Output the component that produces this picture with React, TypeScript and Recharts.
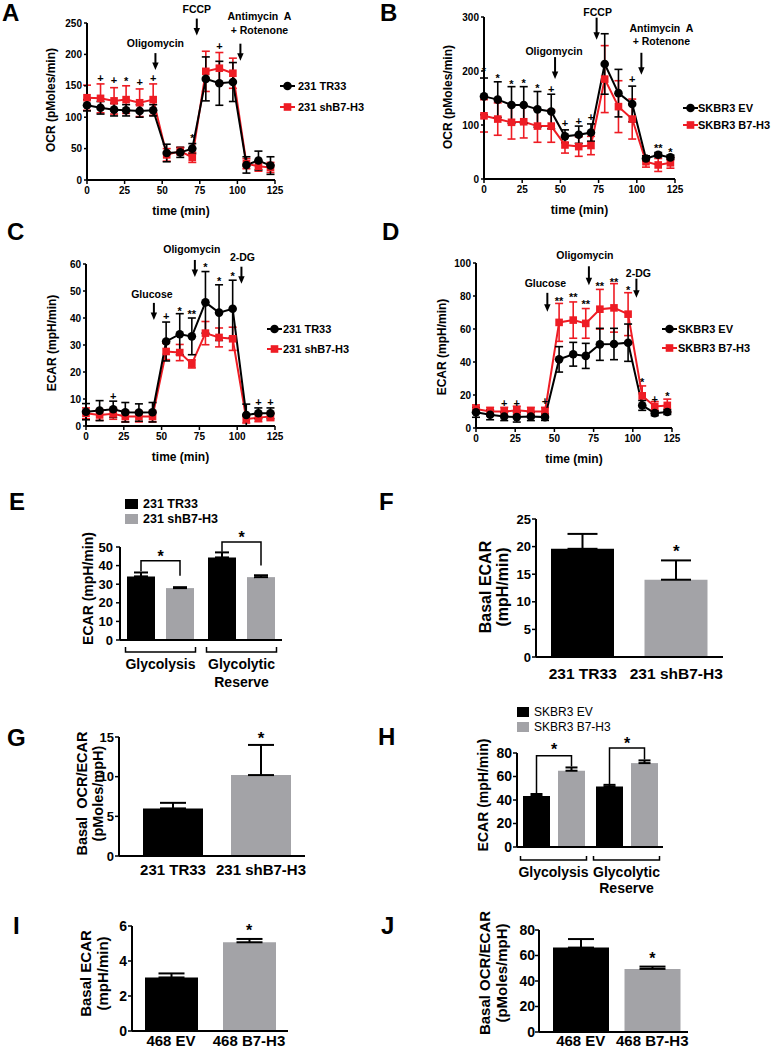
import React from 'react';
import {
  ComposedChart, BarChart, Bar, Line, XAxis, YAxis, ErrorBar, ReferenceDot, Label, Cell,
} from 'recharts';

const FONT = '"Liberation Sans", Arial, Helvetica, sans-serif';
const RED = '#ee1c24';
const GRAY = '#a3a3a7';

// ---------------- shared time axis ----------------
const times = [0, 9, 18, 26, 35, 44, 53, 62, 70, 79, 88, 97, 106, 114, 122];
const timeTicks = [0, 25, 50, 75, 100, 125];

// ---------------- Panel A ----------------
const aNames = ['231 TR33', '231 shB7-H3'];
const aBlack = [119, 115, 112, 111, 110, 111, 43, 44, 50, 161, 154, 156, 24, 31, 23];
const aBlackErr = [9, 10, 10, 9, 10, 9, 14, 8, 8, 35, 35, 31, 13, 15, 14];
const aRed = [131, 130, 126, 128, 123, 128, 40, 46, 36, 173, 178, 170, 26, 22, 20];
const aRedErr = [20, 23, 21, 22, 22, 25, 10, 6, 8, 32, 25, 24, 8, 8, 8];
const aYTicks = [0, 50, 100, 150, 200, 250];
const aMarks = [
  { t: 9, y: 163, s: '+' }, { t: 18, y: 159, s: '+' }, { t: 26, y: 161, s: '*' },
  { t: 35, y: 156, s: '+' }, { t: 44, y: 163, s: '+' }, { t: 70, y: 70, s: '*' }, { t: 88, y: 214, s: '+' },
];
const aArrows = [
  { t: 45.5, y: 175, lines: ['Oligomycin'] },
  { t: 73, y: 230, lines: ['FCCP'] },
  { t: 102, y: 190, lines: ['Antimycin  A', '+ Rotenone'] },
];

// ---------------- Panel B ----------------
const bNames = ['SKBR3 EV', 'SKBR3 B7-H3'];
const bBlack = [153, 147, 137, 137, 129, 125, 79, 82, 86, 213, 159, 139, 38, 45, 40];
const bBlackErr = [34, 33, 34, 34, 33, 32, 12, 16, 16, 56, 44, 33, 5, 4, 4];
const bRed = [117, 111, 105, 106, 98, 98, 63, 60, 62, 185, 134, 111, 32, 26, 30];
const bRedErr = [30, 30, 31, 30, 30, 30, 15, 18, 17, 62, 48, 37, 10, 12, 10];
const bYTicks = [0, 100, 200, 300];
const bMarks = [
  { t: 0, y: 205, s: '*' }, { t: 9, y: 191, s: '*' }, { t: 18, y: 180, s: '*' }, { t: 26, y: 182, s: '*' },
  { t: 35, y: 172, s: '*' }, { t: 44, y: 166, s: '+' }, { t: 53, y: 103, s: '+' }, { t: 62, y: 108, s: '+' },
  { t: 70, y: 114, s: '+' }, { t: 97, y: 186, s: '+' }, { t: 114, y: 62, s: '**' }, { t: 122, y: 55, s: '*' },
];
const bArrows = [
  { t: 46.5, y: 185, lines: ['Oligomycin'] },
  { t: 73.7, y: 258, lines: ['FCCP'] },
  { t: 103, y: 193, lines: ['Antimycin  A', '+ Rotenone'] },
];

// ---------------- Panel C ----------------
const cNames = ['231 TR33', '231 shB7-H3'];
const cBlack = [5.3, 5.7, 6.2, 5.1, 5.0, 5.1, 31.3, 34.0, 33.2, 45.8, 42.0, 43.4, 4.1, 4.7, 4.7];
const cBlackErr = [3.0, 3.7, 3.0, 3.6, 3.2, 3.6, 7.2, 7.6, 6.8, 11.4, 10.3, 10.6, 4.0, 2.0, 2.0];
const cRed = [4.7, 4.1, 4.5, 3.5, 3.5, 3.5, 27.6, 27.2, 23.0, 34.4, 32.8, 32.3, 2.6, 3.1, 3.5];
const cRedErr = [2, 2, 2, 2, 2, 2, 3, 3, 1.5, 4.3, 3.5, 4.3, 1.5, 1.5, 1.5];
const cYTicks = [0, 10, 20, 30, 40, 50, 60];
const cMarks = [
  { t: 18, y: 11.1, s: '+' }, { t: 53, y: 40.6, s: '+' }, { t: 62, y: 43.4, s: '*' }, { t: 70, y: 42.4, s: '**' },
  { t: 79, y: 59.8, s: '*' }, { t: 88, y: 54.4, s: '*' }, { t: 97, y: 56.3, s: '*' },
  { t: 114, y: 8.7, s: '+' }, { t: 122, y: 8.7, s: '+' },
];
const cArrows = [
  { t: 44.9, y: 39.3, lines: ['Glucose'] },
  { t: 72, y: 55.2, lines: ['Oligomycin'] },
  { t: 102.8, y: 52.7, lines: ['2-DG'] },
];

// ---------------- Panel D ----------------
const dNames = ['SKBR3 EV', 'SKBR3 B7-H3'];
const dBlack = [9.5, 8, 7, 6.6, 7, 6.6, 41.6, 44.7, 43.7, 50.7, 50.9, 51.7, 13.7, 9, 9.7];
const dBlackErr = [3, 3, 2.5, 3, 2.5, 2, 7.7, 7.2, 7.6, 9.7, 9.5, 11.3, 3, 1.5, 1.5];
const dRed = [11.5, 10, 10, 10.7, 10, 10, 64, 65.4, 63.4, 72, 72.8, 69, 19.5, 13, 13.7];
const dRedErr = [2.5, 2.5, 2.5, 2.5, 2.5, 2.5, 11.5, 11, 9, 12, 14.7, 13, 6, 3, 3.8];
const dYTicks = [0, 20, 40, 60, 80, 100];
const dMarks = [
  { t: 18, y: 15.1, s: '+' }, { t: 26, y: 15.1, s: '+' }, { t: 44, y: 16.1, s: '+' },
  { t: 53, y: 78.5, s: '**' }, { t: 62, y: 80.5, s: '**' }, { t: 70, y: 76.5, s: '**' },
  { t: 79, y: 87.5, s: '**' }, { t: 88, y: 90, s: '**' }, { t: 97, y: 85, s: '*' },
  { t: 106, y: 29, s: '*' }, { t: 114, y: 17.5, s: '+' }, { t: 122, y: 20.7, s: '*' },
];
const dArrows = [
  { t: 45.5, y: 70.4, lines: ['Glucose'] },
  { t: 72, y: 86.5, lines: ['Oligomycin'] },
  { t: 102.3, y: 79, lines: ['2-DG'] },
];

// ---------------- Panel E ----------------
const eNames = ['231 TR33', '231 shB7-H3'];
const eCats = ['Glycolysis', 'Glycolytic Reserve'];
const eBlack = [34.2, 44.4];
const eBlackErr = [2.1, 2.7];
const eGray = [27.9, 33.8];
const eGrayErr = [0.5, 1.0];
const eBrackets = [
  { level: 42.6, l: 37, r: 34.5, star: 47.1 },
  { level: 52.7, l: 47.5, r: 40, star: 57 },
];
const eYTicks = [0, 10, 20, 30, 40, 50];

// ---------------- Panel F ----------------
const fCats = ['231 TR33', '231 shB7-H3'];
const fVals = [19.6, 14.0];
const fErrs = [2.7, 3.5];
const fStar = 19.9;
const fYTicks = [0, 5, 10, 15, 20, 25];

// ---------------- Panel G ----------------
const gCats = ['231 TR33', '231 shB7-H3'];
const gVals = [6.0, 10.2];
const gErrs = [0.7, 3.8];
const gStar = 15.4;
const gYTicks = [0, 5, 10, 15];

// ---------------- Panel H ----------------
const hNames = ['SKBR3 EV', 'SKBR3 B7-H3'];
const hCats = ['Glycolysis', 'Glycolytic Reserve'];
const hBlack = [43.4, 51.4];
const hBlackErr = [1.7, 1.5];
const hGray = [64.9, 71.4];
const hGrayErr = [2.8, 2.3];
const hBrackets = [
  { level: 77.7, l: 45.5, r: 68.6, star: 86.3 },
  { level: 84.3, l: 53.5, r: 74.5, star: 91.4 },
];
const hYTicks = [0, 20, 40, 60, 80];

// ---------------- Panel I ----------------
const iCats = ['468 EV', '468 B7-H3'];
const iVals = [3.06, 5.07];
const iErrs = [0.23, 0.19];
const iStar = 5.97;
const iYTicks = [0, 2, 4, 6];

// ---------------- Panel J ----------------
const jCats = ['468 EV', '468 B7-H3'];
const jVals = [66.2, 49.5];
const jErrs = [6.7, 1.8];
const jStar = 60.4;
const jYTicks = [0, 20, 40, 60, 80];

const panelLetters = ['A', 'B', 'C', 'D', 'E', 'F', 'G', 'H', 'I', 'J'];

// ---------------- helpers ----------------
const AXIS_LINE = { stroke: '#000', strokeWidth: 2 };
const TICK_LINE = { stroke: '#000', strokeWidth: 1.5 };

function glyphShape(s: string, fs: number) {
  return (p: any) => {
    if (p.cx == null || p.cy == null) return <g />;
    const base = s.includes('*') ? 0.57 : 0.36;
    return (
      <text x={p.cx} y={p.cy + base * fs} textAnchor="middle" fontSize={fs} fontWeight="bold"
        fontFamily={FONT} fill="#000">{s}</text>
    );
  };
}

function arrowShape(lines: string[], len: number, gap: number, dx: number, lineGap: number, fs: number) {
  return (p: any) => {
    if (p.cx == null || p.cy == null) return <g />;
    const { cx, cy } = p;
    const top = cy - len;
    return (
      <g>
        <line x1={cx} y1={top} x2={cx} y2={cy - 6} stroke="#000" strokeWidth={2} />
        <polygon points={`${cx - 3.2},${cy - 7.5} ${cx + 3.2},${cy - 7.5} ${cx},${cy}`} fill="#000" />
        {lines.map((l, i) => (
          <text key={i} x={cx + dx} y={top - gap - (lines.length - 1 - i) * lineGap} textAnchor="middle"
            fontSize={fs} fontWeight="bold" fontFamily={FONT} fill="#000" style={{ whiteSpace: 'pre' }}>{l}</text>
        ))}
      </g>
    );
  };
}

function rotTitle(lines: string[], xs: number[], cy: number, fs: number, weight: string) {
  return () => (
    <g>
      {lines.map((l, i) => {
        const x = xs[i] + 0.36 * fs;
        return (
          <text key={i} x={x} y={cy} transform={`rotate(-90 ${x} ${cy})`} textAnchor="middle" fontSize={fs}
            fontWeight={weight} fontFamily={FONT} fill="#000" style={{ whiteSpace: 'pre' }}>{l}</text>
        );
      })}
    </g>
  );
}

type Mark = { t: number; y: number; s: string };
type Arrow = { t: number; y: number; lines: string[] };

type LineProps = {
  left: number; top: number; width: number; height: number;
  yW: number; mTop: number; mRight: number; xH: number;
  yMax: number; yTicks: number[];
  names: string[];
  black: number[]; blackErr: number[]; red: number[]; redErr: number[];
  marks: Mark[]; arrows: Arrow[];
  arrowLen: number; arrowGaps: number[]; arrowDx: number[]; arrowLineGap: number;
  yTitle: string; yTitleX: number; yTitleDy: number;
  legendIconX: number; legendTextX: number; legendRows: number[];
};

function LineLegend({ names, iconX, textX, rows }: { names: string[]; iconX: number; textX: number; rows: number[] }) {
  return (
    <>
      {names.map((n, i) => (
        <React.Fragment key={i}>
          <svg style={{ position: 'absolute', left: iconX, top: rows[i] - 6 }} width={15} height={12}>
            <line x1={0} y1={6} x2={15} y2={6} stroke={i === 0 ? '#000' : RED} strokeWidth={2} />
            {i === 0
              ? <circle cx={7.5} cy={6} r={4.3} fill="#000" />
              : <rect x={3.7} y={2.2} width={7.6} height={7.6} fill={RED} />}
          </svg>
          <div style={{
            position: 'absolute', left: textX, top: rows[i] - 8, fontSize: 11, lineHeight: '16px',
            fontWeight: 'bold', whiteSpace: 'nowrap', fontFamily: FONT, color: '#000',
          }}>{n}</div>
        </React.Fragment>
      ))}
    </>
  );
}

function LinePanel(p: LineProps) {
  const rows = times.map((t, i) => ({ t, k: p.black[i], ke: p.blackErr[i], r: p.red[i], re: p.redErr[i] }));
  const plotH = p.height - p.mTop - p.xH;
  const plotL = p.yW;
  const plotR = p.width - p.mRight;
  const blackDot = (d: any) => (d.cx == null ? <g key={`k${d.index}`} /> :
    <circle key={`k${d.index}`} cx={d.cx} cy={d.cy} r={4.3} fill="#000" />);
  const redDot = (d: any) => (d.cx == null ? <g key={`r${d.index}`} /> :
    <rect key={`r${d.index}`} x={d.cx - 3.8} y={d.cy - 3.8} width={7.6} height={7.6} fill={RED} />);
  return (
    <>
      <div style={{ position: 'absolute', left: p.left, top: p.top }}>
        <ComposedChart width={p.width} height={p.height} data={rows}
          margin={{ top: p.mTop, right: p.mRight, bottom: 0, left: 0 }}>
          <XAxis dataKey="t" type="number" domain={[0, 125]} ticks={timeTicks} interval={0} height={p.xH}
            axisLine={AXIS_LINE} tickLine={TICK_LINE} tickSize={4} tickMargin={3}
            tick={{ fill: '#000', fontSize: 10, fontWeight: 'bold', fontFamily: FONT }}>
            <Label content={() => (
              <text x={(plotL + plotR) / 2} y={p.mTop + plotH + 34.5} textAnchor="middle" fontSize={12}
                fontWeight="bold" fontFamily={FONT} fill="#000">time (min)</text>
            )} />
          </XAxis>
          <YAxis type="number" domain={[0, p.yMax]} ticks={p.yTicks} interval={0} width={p.yW}
            axisLine={AXIS_LINE} tickLine={TICK_LINE} tickSize={3} tickMargin={2}
            tick={{ fill: '#000', fontSize: 10, fontWeight: 'bold', fontFamily: FONT }}>
            <Label content={rotTitle([p.yTitle], [p.yTitleX], p.mTop + plotH / 2 + p.yTitleDy, 12, 'bold')} />
          </YAxis>
          <Line dataKey="r" stroke={RED} strokeWidth={2} isAnimationActive={false} dot={redDot} activeDot={false}>
            <ErrorBar dataKey="re" width={4} stroke={RED} strokeWidth={1.6} direction="y" />
          </Line>
          <Line dataKey="k" stroke="#000" strokeWidth={2} isAnimationActive={false} dot={blackDot} activeDot={false}>
            <ErrorBar dataKey="ke" width={4} stroke="#000" strokeWidth={1.6} direction="y" />
          </Line>
          {p.marks.map((m, i) => (
            <ReferenceDot key={`m${i}`} x={m.t} y={m.y} r={0} ifOverflow="visible" shape={glyphShape(m.s, 11)} />
          ))}
          {p.arrows.map((a, i) => (
            <ReferenceDot key={`a${i}`} x={a.t} y={a.y} r={0} ifOverflow="visible"
              shape={arrowShape(a.lines, p.arrowLen, p.arrowGaps[i], p.arrowDx[i], p.arrowLineGap, 10.5)} />
          ))}
        </ComposedChart>
      </div>
      <LineLegend names={p.names} iconX={p.legendIconX} textX={p.legendTextX} rows={p.legendRows} />
    </>
  );
}

type SimpleBarProps = {
  left: number; top: number; width: number; height: number;
  yW: number; mTop: number; mRight: number; xH: number; padL: number;
  yMax: number; yTicks: number[];
  cats: string[]; vals: number[]; errs: number[]; star: number;
  barSize: number; cap: number;
  tickFs: number; tickWeight: string; tickSize: number; tickMargin: number;
  labelFs: number; labelWeight: string; labelOffset: number;
  titles: string[]; titleXs: number[]; titleFs: number; titleWeight: string; titleDy: number;
  starFs: number;
};

function SimpleBarPanel(p: SimpleBarProps) {
  const rows = p.cats.map((c, i) => ({ name: c, v: p.vals[i], e: [0, p.errs[i]] }));
  const plotH = p.height - p.mTop - p.xH;
  const xTick = (t: any) => (
    <text x={t.x} y={t.y + p.labelOffset + 0.36 * p.labelFs} textAnchor="middle" fontSize={p.labelFs}
      fontWeight={p.labelWeight} fontFamily={FONT} fill="#000">{t.payload.value}</text>
  );
  return (
    <div style={{ position: 'absolute', left: p.left, top: p.top }}>
      <BarChart width={p.width} height={p.height} data={rows}
        margin={{ top: p.mTop, right: p.mRight, bottom: 0, left: 0 }}>
        <XAxis dataKey="name" type="category" interval={0} height={p.xH} padding={{ left: p.padL, right: 0 }}
          axisLine={AXIS_LINE} tickLine={false} tickSize={0} tickMargin={0} tick={xTick} />
        <YAxis type="number" domain={[0, p.yMax]} ticks={p.yTicks} interval={0} width={p.yW}
          axisLine={AXIS_LINE} tickLine={TICK_LINE} tickSize={p.tickSize} tickMargin={p.tickMargin}
          tick={{ fill: '#000', fontSize: p.tickFs, fontWeight: p.tickWeight, fontFamily: FONT }}>
          <Label content={rotTitle(p.titles, p.titleXs, p.mTop + plotH / 2 + p.titleDy, p.titleFs, p.titleWeight)} />
        </YAxis>
        <Bar dataKey="v" barSize={p.barSize} isAnimationActive={false}>
          {rows.map((r, i) => <Cell key={i} fill={i === 0 ? '#000' : GRAY} />)}
          <ErrorBar dataKey="e" width={p.cap} stroke="#000" strokeWidth={2} direction="y" />
        </Bar>
        <ReferenceDot x={p.cats[1]} y={p.star} r={0} ifOverflow="visible" shape={glyphShape('*', p.starFs)} />
      </BarChart>
    </div>
  );
}

type Bracket = { level: number; l: number; r: number; star: number };
type GroupBarProps = {
  left: number; top: number; width: number; height: number;
  yW: number; mTop: number; mRight: number; xH: number;
  yMax: number; yTicks: number[];
  cats: string[]; black: number[]; blackErr: number[]; gray: number[]; grayErr: number[];
  brackets: Bracket[];
  barSize: number; barGap: number; cap: number;
  tickFs: number; tickSize: number; tickMargin: number;
  groupHalf: number; groupBrY: number; groupBrH: number; groupLineYs: number[]; groupFs: number;
  title: string; titleX: number; titleFs: number; titleDy: number;
  names: string[]; legendX: number; legendTextX: number; legendRows: number[]; legendFs: number; legendWeight: string;
  legendW: number; legendH: number;
};

function GroupBarPanel(p: GroupBarProps) {
  const rows = p.cats.map((c, i) => ({
    name: c, k: p.black[i], ke: [0, p.blackErr[i]], g: p.gray[i], ge: [0, p.grayErr[i]], br: p.brackets[i],
  }));
  const plotH = p.height - p.mTop - p.xH;
  const xTick = (t: any) => {
    const words = String(t.payload.value).split(' ');
    const by = t.y + p.groupBrY;
    return (
      <g>
        <path d={`M${t.x - p.groupHalf},${by - p.groupBrH} V${by} H${t.x + p.groupHalf} V${by - p.groupBrH}`}
          stroke="#000" strokeWidth={1.5} fill="none" />
        {words.map((w, i) => (
          <text key={i} x={t.x} y={t.y + p.groupLineYs[i] + 0.36 * p.groupFs} textAnchor="middle"
            fontSize={p.groupFs} fontWeight="bold" fontFamily={FONT} fill="#000">{w}</text>
        ))}
      </g>
    );
  };
  const grayShape = (s: any) => {
    const br: Bracket | undefined = (s.payload && s.payload.br) || p.brackets[s.index];
    const gv = (s.payload && s.payload.g) || p.gray[s.index];
    const ppu = s.height / gv;
    const base = s.y + s.height;
    const Y = (v: number) => base - v * ppu;
    const gx = s.x + s.width / 2;
    const kx = gx - s.width - p.barGap;
    return (
      <g>
        <rect x={s.x} y={s.y} width={s.width} height={s.height} fill={GRAY} />
        {br && (
          <>
            <path d={`M${kx},${Y(br.l)} V${Y(br.level)} H${gx} V${Y(br.r)}`} stroke="#000" strokeWidth={1.5} fill="none" />
            <text x={(kx + gx) / 2} y={Y(br.star) + 0.57 * 16} textAnchor="middle" fontSize={16} fontWeight="bold"
              fontFamily={FONT} fill="#000">*</text>
          </>
        )}
      </g>
    );
  };
  return (
    <>
      <div style={{ position: 'absolute', left: p.left, top: p.top }}>
        <BarChart width={p.width} height={p.height} data={rows} barGap={p.barGap}
          margin={{ top: p.mTop, right: p.mRight, bottom: 0, left: 0 }}>
          <XAxis dataKey="name" type="category" interval={0} height={p.xH}
            axisLine={AXIS_LINE} tickLine={false} tickSize={0} tickMargin={0} tick={xTick} />
          <YAxis type="number" domain={[0, p.yMax]} ticks={p.yTicks} interval={0} width={p.yW}
            axisLine={AXIS_LINE} tickLine={TICK_LINE} tickSize={p.tickSize} tickMargin={p.tickMargin}
            tick={{ fill: '#000', fontSize: p.tickFs, fontWeight: 'bold', fontFamily: FONT }}>
            <Label content={rotTitle([p.title], [p.titleX], p.mTop + plotH / 2 + p.titleDy, p.titleFs, 'bold')} />
          </YAxis>
          <Bar dataKey="k" fill="#000" barSize={p.barSize} isAnimationActive={false}>
            <ErrorBar dataKey="ke" width={p.cap} stroke="#000" strokeWidth={2} direction="y" />
          </Bar>
          <Bar dataKey="g" fill={GRAY} barSize={p.barSize} isAnimationActive={false} shape={grayShape}>
            <ErrorBar dataKey="ge" width={p.cap} stroke="#000" strokeWidth={2} direction="y" />
          </Bar>
        </BarChart>
      </div>
      {p.names.map((n, i) => (
        <React.Fragment key={i}>
          <div style={{
            position: 'absolute', left: p.legendX, top: p.legendRows[i] - p.legendH / 2, width: p.legendW,
            height: p.legendH, background: i === 0 ? '#000' : GRAY,
          }} />
          <div style={{
            position: 'absolute', left: p.legendTextX, top: p.legendRows[i] - 8, fontSize: p.legendFs,
            lineHeight: '16px', fontWeight: p.legendWeight as any, whiteSpace: 'nowrap', fontFamily: FONT, color: '#000',
          }}>{n}</div>
        </React.Fragment>
      ))}
    </>
  );
}

const letterPos = [
  { x: 2, y: 4 }, { x: 380, y: 4 }, { x: 7, y: 223 }, { x: 382, y: 223 }, { x: 9, y: 493 },
  { x: 379, y: 493 }, { x: 7, y: 729 }, { x: 378, y: 728 }, { x: 13, y: 917 }, { x: 381, y: 917 },
];

export default function App() {
  return (
    <div style={{
      position: 'absolute', left: 0, top: 0, width: 774, height: 1050, background: '#fff',
      overflow: 'hidden', fontFamily: FONT,
    }}>
      {panelLetters.map((c, i) => (
        <div key={c} style={{
          position: 'absolute', left: letterPos[i].x, top: letterPos[i].y - 3, fontSize: 24, lineHeight: '24px',
          fontWeight: 'bold', fontFamily: FONT, color: '#000',
        }}>{c}</div>
      ))}

      <LinePanel left={0} top={0} width={310} height={225} yW={87} mTop={23} mRight={35} xH={45}
        yMax={250} yTicks={aYTicks} names={aNames}
        black={aBlack} blackErr={aBlackErr} red={aRed} redErr={aRedErr}
        marks={aMarks} arrows={aArrows} arrowLen={17} arrowGaps={[6, 6, 10]} arrowDx={[0, 0, 19]} arrowLineGap={14}
        yTitle="OCR (pMoles/min)" yTitleX={51} yTitleDy={-1.5}
        legendIconX={280} legendTextX={298} legendRows={[86, 107]} />

      <LinePanel left={390} top={0} width={320} height={225} yW={94} mTop={17} mRight={35} xH={46}
        yMax={300} yTicks={bYTicks} names={bNames}
        black={bBlack} blackErr={bBlackErr} red={bRed} redErr={bRedErr}
        marks={bMarks} arrows={bArrows} arrowLen={22} arrowGaps={[2, 2, 8]} arrowDx={[-1, 1, 20]} arrowLineGap={13}
        yTitle="OCR (pMoles/min)" yTitleX={58} yTitleDy={-1}
        legendIconX={683} legendTextX={698} legendRows={[108, 125]} />

      <LinePanel left={0} top={240} width={290} height={231} yW={86} mTop={24} mRight={15} xH={45}
        yMax={60} yTicks={cYTicks} names={cNames}
        black={cBlack} blackErr={cBlackErr} red={cRed} redErr={cRedErr}
        marks={cMarks} arrows={cArrows} arrowLen={17} arrowGaps={[5, 7, 6]} arrowDx={[-2, -3, 1]} arrowLineGap={14}
        yTitle="ECAR (mpH/min)" yTitleX={52} yTitleDy={-2}
        legendIconX={267} legendTextX={283} legendRows={[329, 349]} />

      <LinePanel left={390} top={240} width={297} height={233} yW={86} mTop={23} mRight={15} xH={45}
        yMax={100} yTicks={dYTicks} names={dNames}
        black={dBlack} blackErr={dBlackErr} red={dRed} redErr={dRedErr}
        marks={dMarks} arrows={dArrows} arrowLen={19} arrowGaps={[6, 7, 2]} arrowDx={[-2, -4, 2]} arrowLineGap={14}
        yTitle="ECAR (mpH/min)" yTitleX={52} yTitleDy={1.5}
        legendIconX={662} legendTextX={678} legendRows={[329, 348]} />

      <GroupBarPanel left={0} top={490} width={300} height={210} yW={120} mTop={57} mRight={18} xH={60}
        yMax={50} yTicks={eYTicks} cats={eCats} black={eBlack} blackErr={eBlackErr} gray={eGray} grayErr={eGrayErr}
        brackets={eBrackets} barSize={28} barGap={11} cap={7}
        tickFs={13} tickSize={4} tickMargin={3}
        groupHalf={35} groupBrY={12} groupBrH={5} groupLineYs={[24, 42]} groupFs={14}
        title="ECAR (mpH/min)" titleX={88} titleFs={14} titleDy={-5}
        names={eNames} legendX={125} legendTextX={143} legendRows={[504, 519]} legendFs={12.5} legendWeight="bold"
        legendW={13} legendH={10} />

      <SimpleBarPanel left={390} top={490} width={340} height={200} yW={146} mTop={29} mRight={7} xH={33} padL={0}
        yMax={25} yTicks={fYTicks} cats={fCats} vals={fVals} errs={fErrs} star={fStar}
        barSize={63} cap={15} tickFs={13} tickWeight="bold" tickSize={4} tickMargin={1}
        labelFs={15.5} labelWeight="bold" labelOffset={16}
        titles={['Basal ECAR', '(mpH/min)']} titleXs={[95, 112]} titleFs={16} titleWeight="bold" titleDy={-1}
        starFs={17} />

      <SimpleBarPanel left={0} top={690} width={315} height={195} yW={119} mTop={47} mRight={10} xH={29} padL={10}
        yMax={15} yTicks={gYTicks} cats={gCats} vals={gVals} errs={gErrs} star={gStar}
        barSize={60} cap={13} tickFs={13} tickWeight="bold" tickSize={4} tickMargin={1}
        labelFs={15} labelWeight="bold" labelOffset={14}
        titles={['Basal  OCR/ECAR', '(pMoles/mpH)']} titleXs={[82, 98]} titleFs={14.5} titleWeight="bold" titleDy={-3}
        starFs={17} />

      <GroupBarPanel left={390} top={690} width={280} height={210} yW={127} mTop={63} mRight={7} xH={53}
        yMax={80} yTicks={hYTicks} cats={hCats} black={hBlack} blackErr={hBlackErr} gray={hGray} grayErr={hGrayErr}
        brackets={hBrackets} barSize={27} barGap={8} cap={6}
        tickFs={14} tickSize={4} tickMargin={1}
        groupHalf={33} groupBrY={13} groupBrH={4} groupLineYs={[25, 41]} groupFs={14}
        title="ECAR (mpH/min)" titleX={93} titleFs={14} titleDy={-5}
        names={hNames} legendX={517} legendTextX={534} legendRows={[712, 727]} legendFs={12} legendWeight="normal"
        legendW={12} legendH={10} />

      <SimpleBarPanel left={0} top={870} width={295} height={180} yW={132} mTop={56} mRight={7} xH={19} padL={0}
        yMax={6} yTicks={iYTicks} cats={iCats} vals={iVals} errs={iErrs} star={iStar}
        barSize={53} cap={13} tickFs={14} tickWeight="bold" tickSize={4} tickMargin={1}
        labelFs={15} labelWeight="bold" labelOffset={9.5}
        titles={['Basal ECAR', '(mpH/min)']} titleXs={[86, 103]} titleFs={15} titleWeight="bold" titleDy={-5}
        starFs={16} />

      <SimpleBarPanel left={390} top={870} width={305} height={180} yW={149} mTop={60} mRight={7} xH={18} padL={6}
        yMax={80} yTicks={jYTicks} cats={jCats} vals={jVals} errs={jErrs} star={jStar}
        barSize={56} cap={13} tickFs={14} tickWeight="bold" tickSize={4} tickMargin={0}
        labelFs={15} labelWeight="bold" labelOffset={8.5}
        titles={['Basal OCR/ECAR', '(pMoles/mpH)']} titleXs={[95, 112]} titleFs={15} titleWeight="bold" titleDy={-8}
        starFs={16} />
    </div>
  );
}
